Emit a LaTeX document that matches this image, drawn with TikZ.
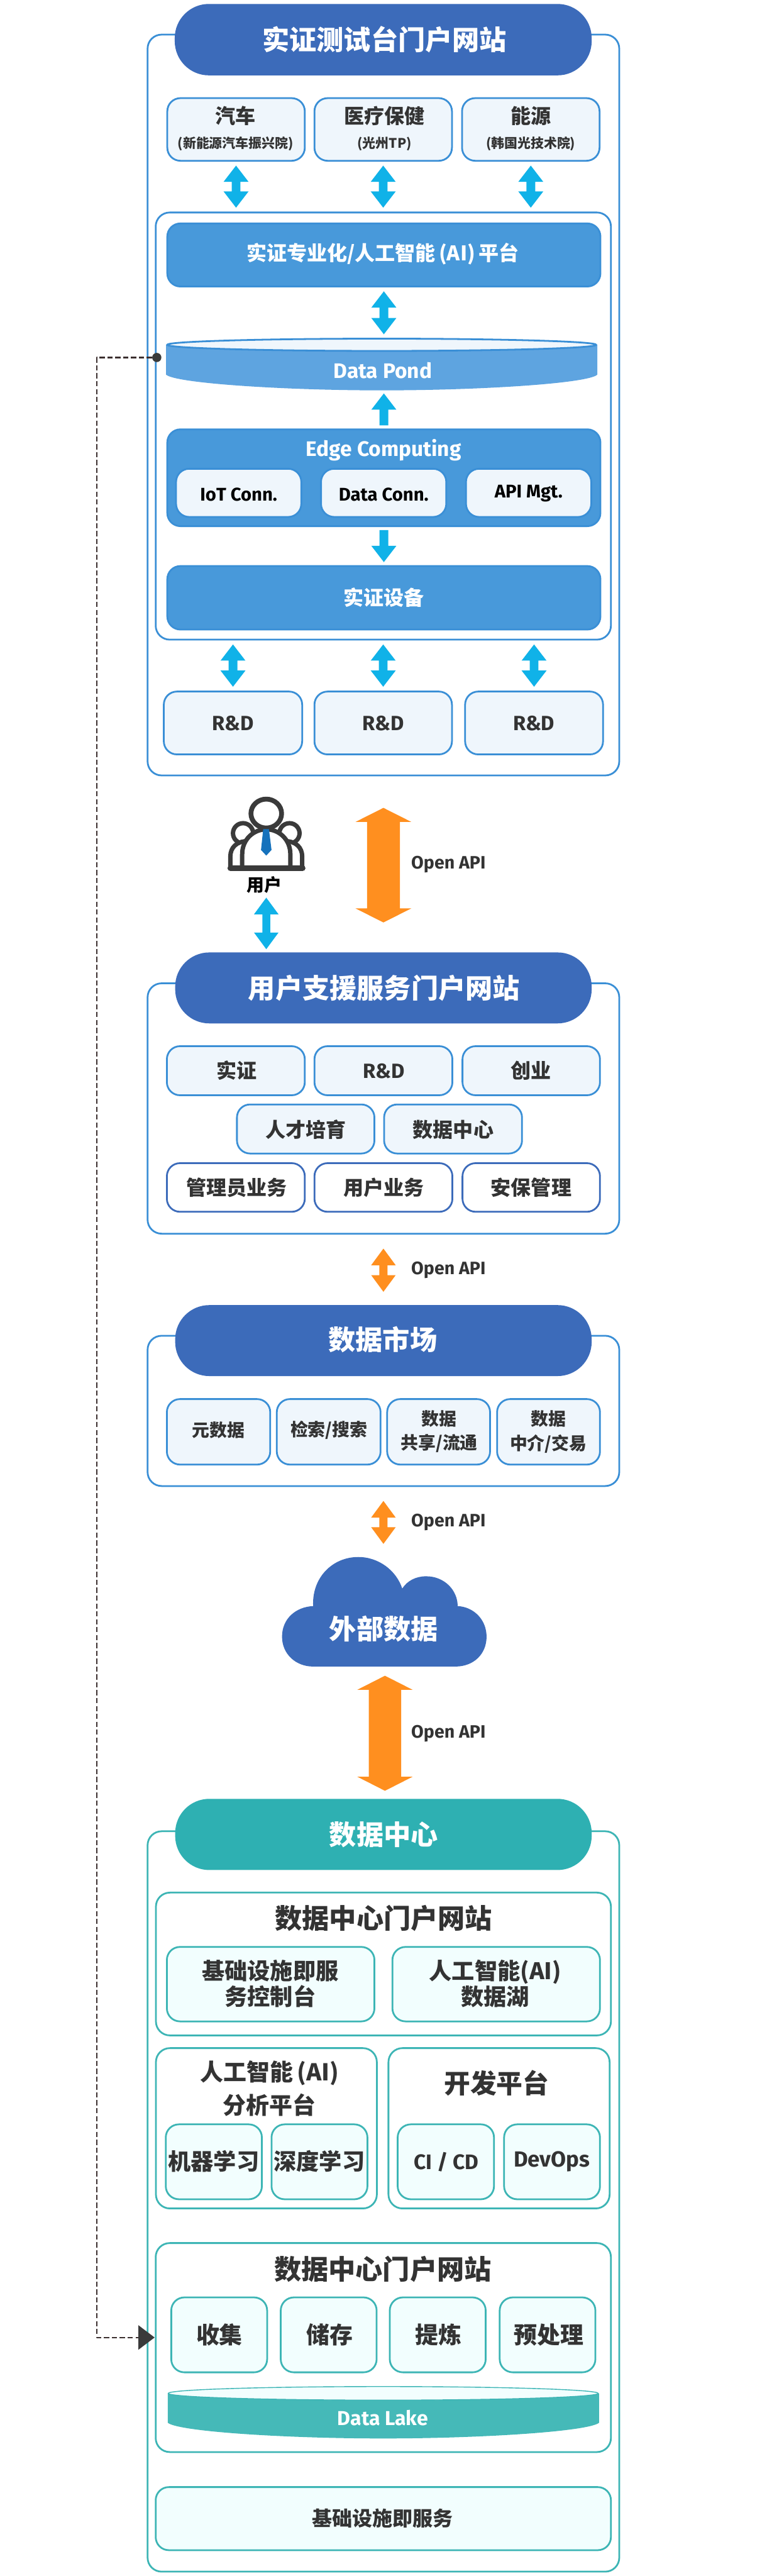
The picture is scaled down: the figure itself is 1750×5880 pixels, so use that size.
\documentclass[tikz,border=0pt]{standalone}
\usepackage{fontspec}
\setmainfont{Noto Sans CJK SC}
\newfontfamily\latf{Fira Sans}
\usetikzlibrary{calc}
\definecolor{cblue}{HTML}{3A8FD6}
\definecolor{cpill}{HTML}{3C6BBA}
\definecolor{cplat}{HTML}{4899DA}
\definecolor{cpond}{HTML}{5EA4E0}
\definecolor{clight}{HTML}{EFF6FC}
\definecolor{cteal}{HTML}{3DB5B5}
\definecolor{cpillt}{HTML}{2EB0B2}
\definecolor{clake}{HTML}{45B9B8}
\definecolor{clightt}{HTML}{F2FEFE}
\definecolor{ctext}{HTML}{333333}
\definecolor{carrow}{HTML}{10B2E8}
\definecolor{corange}{HTML}{FF8F1F}
\definecolor{cdash}{HTML}{3B2F2F}
\definecolor{cicon}{HTML}{3A3A3A}
\definecolor{ctie}{HTML}{1672BC}
\newcommand\st{\rule{0pt}{.88em}\rule[-.12em]{0pt}{.12em}}
% box: style, name, x0, y0, x1, y1
\newcommand\bx[6]{%
  \pgfmathsetmacro\myw{(#5-#3)*0.5}\pgfmathsetmacro\myh{(#6-#4)*0.5}%
  \node[#1,minimum width=\myw pt,minimum height=\myh pt] (#2) at ({(#3+#5)/2},{(#4+#6)/2}) {};}
% text: colour style, name, x, y, size(pt), text
\newcommand\tx[6][dk]{%
  \node[#1,align=center,inner sep=0pt] (#2) at (#3,#4) {\fontsize{#5}{#5}\selectfont\st #6\st};}
% two-line text: style, name, x, y, size, leading, line 1, line 2
\newcommand\txx[8]{%
  \node[#1,align=center,inner sep=0pt,font={\bfseries\fontsize{#5}{#6}\selectfont}] (#2) at (#3,#4) {\st #7\\#8\st};}
% double block arrow: colour, A, B, gapA, gapB, head half width, head height, shaft half width (px)
\newcommand\darrow[8]{%
  \fill[#1] let \p1=(#2), \p2=(#3) in
   (\x1,\y1-#4*0.5pt) -- ++(#6*0.5pt,-#7*0.5pt) -- ++({(#8-#6)*0.5pt},0) --
   (\x1+#8*0.5pt,\y2+#5*0.5pt+#7*0.5pt) -- ++({(#6-#8)*0.5pt},0) -- (\x1,\y2+#5*0.5pt) --
   (\x1-#6*0.5pt,\y2+#5*0.5pt+#7*0.5pt) -- ++({(#6-#8)*0.5pt},0) --
   (\x1-#8*0.5pt,\y1-#4*0.5pt-#7*0.5pt) -- ++({(#8-#6)*0.5pt},0) -- cycle;}
% single block arrow: A tail, B tip, gaps
\newcommand\sarrow[8]{%
  \fill[#1] let \p1=(#2), \p2=(#3), \n1={(\y2>\y1)?1:-1} in
   (\x1-#8*0.5pt,\y1+\n1*#4*0.5pt) -- (\x1+#8*0.5pt,\y1+\n1*#4*0.5pt) --
   (\x1+#8*0.5pt,\y2-\n1*#5*0.5pt-\n1*#7*0.5pt) -- (\x1+#6*0.5pt,\y2-\n1*#5*0.5pt-\n1*#7*0.5pt) --
   (\x1,\y2-\n1*#5*0.5pt) --
   (\x1-#6*0.5pt,\y2-\n1*#5*0.5pt-\n1*#7*0.5pt) -- (\x1-#8*0.5pt,\y2-\n1*#5*0.5pt-\n1*#7*0.5pt) -- cycle;}
\newcommand\blue[2]{\darrow{carrow}{#1}{#2}{9}{9}{28.5}{37}{10}}
\begin{document}
\begin{tikzpicture}[x=0.5pt,y=-0.5pt,line join=round,
  outerb/.style={draw=cblue,line width=2pt,rounded corners=16pt,fill=white},
  outert/.style={draw=cteal,line width=2pt,rounded corners=16pt,fill=white},
  pill/.style={fill=cpill,rounded corners=39pt},
  pillt/.style={fill=cpillt,rounded corners=39pt},
  card/.style={draw=cblue,line width=2pt,fill=clight,rounded corners=15pt},
  plat/.style={draw=cblue,line width=2pt,fill=cplat,rounded corners=15pt},
  dcard/.style={draw=cpill,line width=2pt,fill=white,rounded corners=15pt},
  tcard/.style={draw=cteal,line width=2pt,fill=clightt,rounded corners=15pt},
  dk/.style={text=ctext,font=\bfseries},
  wh/.style={text=white,font=\bfseries},
  bk/.style={text=black,font=\bfseries},
  dkl/.style={text=ctext,font=\latf\bfseries},
  whl/.style={text=white,font=\latf\bfseries},
  bkl/.style={text=black,font=\latf\bfseries},
  ]
\useasboundingbox (0,0) rectangle (1750,5880);
\fill[white] (0,0) rectangle (1750,5880);

%% ---------- section 1
\bx{outerb}{box1}{337}{79}{1414}{1770}
\bx{pill}{pill1}{399}{9}{1351}{172}
\tx[wh]{pill1t}{878}{90}{31}{实证测试台门户网站}
\bx{card}{car}{382}{224}{696}{367}
\bx{card}{med}{718}{224}{1032}{367}
\bx{card}{eng}{1055}{224}{1369}{367}
\tx{cart}{538}{265}{23}{汽车}
\tx{cars}{538}{328}{15}{(新能源汽车振兴院)}
\tx{medt}{878}{265}{23}{医疗保健}
\tx{meds}{878}{328}{15}{(光州TP)}
\tx{engt}{1212}{265}{23}{能源}
\tx{engs}{1212}{328}{15}{(韩国光技术院)}
\bx{outerb}{inner}{355.5}{485}{1395}{1460}
\blue{car.south}{car.south |- inner.north}
\blue{med.south}{med.south |- inner.north}
\blue{eng.south}{eng.south |- inner.north}
\bx{plat}{platform}{382}{510}{1371}{654}
\tx[wh]{platformt}{874}{580}{23}{实证专业化/人工智能\,(AI)\,平台}
% data pond
\coordinate (pondtop) at (875,772);
\coordinate (pondbot) at (875,891);
\fill[cpond] (379,787) -- (379,855) .. controls (400,875) and (650,891) .. (871,891) .. controls (1100,891) and (1345,875) .. (1364,855) -- (1364,787) -- cycle;
\draw[cblue,line width=2pt,fill=clight] (871.5,787) ellipse [x radius=490,y radius=14];
\tx[whl]{pondt}{874}{845}{24}{Data Pond}
\blue{platform.south}{pondtop}
\bx{plat}{edge}{382}{980}{1371}{1201}
\tx[whl]{edget}{876}{1025}{24}{Edge Computing}
\sarrow{carrow}{edge.north}{pondbot}{7}{7}{28.5}{37}{10}
\bx{card}{iot}{402}{1070}{688}{1180}
\bx{card}{dconn}{733}{1070}{1019}{1180}
\bx{card}{api}{1064}{1070}{1350}{1180}
\tx[bkl]{iott}{545}{1127}{21}{IoT Conn.}
\tx[bkl]{dconnt}{876}{1127}{21}{Data Conn.}
\tx[bkl]{apit}{1207}{1123}{21}{API Mgt.}
\bx{plat}{device}{382}{1292}{1371}{1437}
\tx[wh]{devicet}{877}{1364}{23}{实证设备}
\sarrow{carrow}{edge.south}{device.north}{7}{7}{28.5}{37}{10}
\bx{card}{rd1}{374}{1578.5}{690}{1722}
\bx{card}{rd2}{718}{1578.5}{1032}{1722}
\bx{card}{rd3}{1062}{1578.5}{1377}{1722}
\tx[dkl]{rd1t}{532}{1649}{23.5}{R\&D}
\tx[dkl]{rd2t}{875}{1649}{23.5}{R\&D}
\tx[dkl]{rd3t}{1219}{1649}{23.5}{R\&D}
\blue{rd1.north |- inner.south}{rd1.north}
\blue{rd2.north |- inner.south}{rd2.north}
\blue{rd3.north |- inner.south}{rd3.north}

%% ---------- user
\begin{scope}[line width=5pt]
  \draw[cicon,fill=white] (555,1902) circle [radius=23];
  \draw[cicon,fill=white] (661,1902) circle [radius=23];
  \draw[cicon,fill=white] (526,1981) -- (526,1955) .. controls (526,1935) and (540,1920) .. (565,1920) -- (651,1920) .. controls (676,1920) and (690,1935) .. (690,1955) -- (690,1981) -- cycle;
  \draw[cicon,fill=white] (553,1981) -- (553,1950) .. controls (553,1915) and (580,1893) .. (608,1893) .. controls (636,1893) and (663,1915) .. (663,1950) -- (663,1981) -- cycle;
  \draw[cicon,fill=white,line width=5.5pt] (608,1857) ellipse [x radius=35,y radius=33];
  \draw[cicon,line width=6.5pt,line cap=round] (526,1981.5) -- (691,1981.5);
\end{scope}
\fill[ctie] (601,1892.5) -- (614,1892.5) -- (620,1940) -- (608,1953) -- (596,1940) -- cycle;
\coordinate (usericon) at (608,2040);
\tx[bk]{usert}{604}{2020}{20}{用户}

%% ---------- section 2
\bx{outerb}{box2}{337}{2244.5}{1414}{2816}
\bx{pill}{pill2}{400}{2174}{1351}{2336}
\tx[wh]{pill2t}{877}{2256}{31}{用户支援服务门户网站}
\darrow{carrow}{usericon}{usericon |- pill2.north}{9}{7}{28}{38}{9}
\darrow{corange}{pill2.north |- box1.south}{pill2.north}{72}{68}{63.5}{32}{37.5}
\tx[dkl]{oa1}{1024}{1969}{20.5}{Open API}
\bx{card}{b21}{381}{2388}{696}{2500}
\bx{card}{b22}{718}{2388}{1033}{2500}
\bx{card}{b23}{1056}{2388}{1370}{2500}
\bx{card}{b24}{541}{2521}{855}{2633}
\bx{card}{b25}{877}{2521}{1192}{2633}
\bx{dcard}{b26}{381}{2655}{696}{2766}
\bx{dcard}{b27}{718}{2655}{1033}{2766}
\bx{dcard}{b28}{1056}{2655}{1370}{2766}
\tx{b21t}{541}{2444}{23}{实证}
\tx[dkl]{b22t}{877}{2444}{23.5}{R\&D}
\tx{b23t}{1213}{2444}{23}{创业}
\tx{b24t}{698}{2578}{23}{人才培育}
\tx{b25t}{1035}{2578}{23}{数据中心}
\tx{b26t}{541}{2711}{23}{管理员业务}
\tx{b27t}{877}{2711}{23}{用户业务}
\tx{b28t}{1213}{2711}{23}{安保管理}

%% ---------- section 3
\bx{outerb}{box3}{337}{3049}{1414}{3392}
\bx{pill}{pill3}{400}{2979}{1351}{3141}
\tx[wh]{pill3t}{874}{3058}{31}{数据市场}
\darrow{corange}{pill3.north |- box2.south}{pill3.north}{32}{30}{28}{38}{9.5}
\tx[dkl]{oa2}{1024}{2896}{20.5}{Open API}
\bx{card}{m1}{381}{3193.5}{617}{3343}
\bx{card}{m2}{632}{3193.5}{869}{3343}
\bx{card}{m3}{884}{3193.5}{1119}{3343}
\bx{card}{m4}{1135}{3193.5}{1370}{3343}
\tx{m1t}{499}{3264}{20}{元数据}
\tx{m2t}{751}{3264}{20}{检索/搜索}
\txx{text=ctext}{m3t}{1003}{3267}{20}{27}{数据}{共享/流通}
\txx{text=ctext}{m4t}{1252}{3267.5}{20}{28}{数据}{中介/交易}

%% ---------- cloud
\coordinate (cloudtop) at (876,3554);
\coordinate (cloudbot) at (879,3804);
\fill[cpill] (715,3666) .. controls (675,3668) and (644,3695) .. (644,3736) .. controls (644,3775) and (675,3804) .. (715,3804) -- (1040,3804) .. controls (1082,3804) and (1111,3775) .. (1111,3736) .. controls (1111,3697) and (1082,3668) .. (1045,3666) .. controls (1045,3630) and (1015,3598) .. (973,3598) .. controls (950,3598) and (930,3608) .. (918.5,3626) .. controls (905,3585) and (865,3554) .. (818,3554) .. controls (760,3554) and (712,3600) .. (715,3666) -- cycle;
\tx[wh]{cloudt}{876}{3718}{31}{外部数据}
\darrow{corange}{pill3.south |- box3.south}{cloudtop}{32}{30}{28}{38}{9.5}
\tx[dkl]{oa3}{1024}{3471}{20.5}{Open API}

%% ---------- section 4
\bx{outert}{box4}{337}{4180}{1414}{5870}
\bx{pillt}{pill4}{400}{4106}{1351}{4268.5}
\tx[wh]{pill4t}{876}{4187}{31}{数据中心}
\darrow{corange}{cloudbot}{cloudbot |- pill4.north}{21}{18}{63}{32}{37}
\tx[dkl]{oa4}{1024}{3953}{20.5}{Open API}
\bx{outert}{portal}{356}{4320}{1395}{4646}
\tx{portalt}{876}{4379}{31}{数据中心门户网站}
\bx{tcard}{p1}{381}{4444}{855}{4614}
\bx{tcard}{p2}{896}{4444}{1370}{4614}
\txx{text=ctext}{p1t}{617}{4528}{26}{29}{基础设施即服}{务控制台}
\txx{text=ctext}{p2t}{1131}{4528}{26}{29}{人工智能(AI)}{数据湖}
\bx{outert}{aibox}{356}{4675}{860.5}{5041}
\bx{outert}{devbox}{887}{4675}{1392}{5041}
\txx{text=ctext}{aibt}{615.5}{4768}{26.5}{38}{人工智能\,(AI)}{分析平台}
\tx{devbt}{1134}{4755}{30}{开发平台}
\bx{tcard}{ml}{378.5}{4849}{598}{5020}
\bx{tcard}{dl}{620}{4849}{839}{5020}
\bx{tcard}{cicd}{908}{4849}{1128}{5020}
\bx{tcard}{devops}{1151}{4849}{1370}{5020}
\tx{mlt}{488}{4933}{26}{机器学习}
\tx{dlt}{729}{4933}{26}{深度学习}
\tx[dkl]{cicdt}{1019}{4934}{24}{CI / CD}
\tx[dkl]{devopst}{1260}{4929}{25}{DevOps}
\bx{outert}{collect}{355.5}{5120}{1395}{5597}
\tx{collectt}{874}{5180}{31}{数据中心门户网站}
\bx{tcard}{c1}{391}{5244}{610}{5415}
\bx{tcard}{c2}{641}{5244}{860}{5415}
\bx{tcard}{c3}{890}{5244}{1109}{5415}
\bx{tcard}{c4}{1141}{5244}{1359.5}{5415}
\tx{c1t}{501}{5330}{26.5}{收集}
\tx{c2t}{753}{5330}{26.5}{储存}
\tx{c3t}{1001}{5330}{26.5}{提炼}
\tx{c4t}{1253}{5330}{26.5}{预处理}
\fill[clake] (383,5463) -- (383,5530) .. controls (405,5550) and (650,5566) .. (875,5566) .. controls (1100,5566) and (1345,5550) .. (1368,5530) -- (1368,5463) -- cycle;
\draw[cteal,line width=1pt,fill=clightt] (875,5463) ellipse [x radius=491,y radius=15.5];
\tx[whl]{laket}{874}{5519}{23}{Data Lake}
\bx{tcard}{iaas}{355.5}{5677}{1395}{5821}
\tx{iaast}{874}{5749}{23}{基础设施即服务}

%% ---------- dashed link
\node[circle,fill=cicon,minimum size=10.5pt,inner sep=0pt] (dot) at (358,816) {};
\coordinate (lane) at (221,816);
\coordinate (arrowin) at (316,5335.5);
\draw[cdash,line width=1.7pt,dash pattern=on 6pt off 3pt] (dot.west) -- (lane) -- (lane |- arrowin) -- (arrowin);
\fill[cicon] (arrowin) ++(0,-28) -- ++(37,28) -- ++(-37,28) -- cycle;
\end{tikzpicture}
\end{document}
